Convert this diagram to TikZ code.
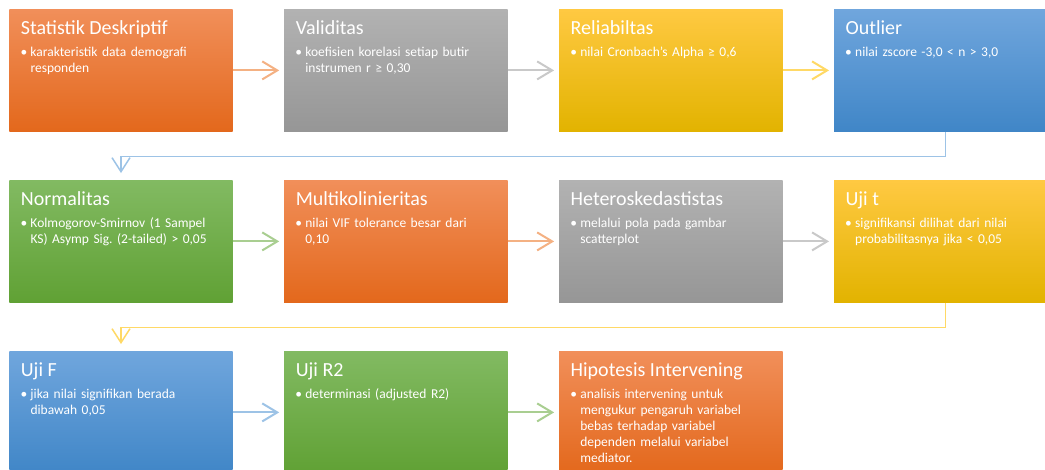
\documentclass[tikz,border=0pt]{standalone}
\usepackage{fontspec}
\setmainfont{Carlito}
\frenchspacing
\usetikzlibrary{positioning,calc,arrows.meta}
\definecolor{oranyeA}{RGB}{241,143,90}
\definecolor{oranyeB}{RGB}{237,125,49}
\definecolor{oranyeC}{RGB}{227,104,28}
\definecolor{abuA}{RGB}{178,178,178}
\definecolor{abuB}{RGB}{165,165,165}
\definecolor{abuC}{RGB}{150,150,150}
\definecolor{emasA}{RGB}{255,201,66}
\definecolor{emasB}{RGB}{255,192,0}
\definecolor{emasC}{RGB}{226,179,0}
\definecolor{biruA}{RGB}{112,166,221}
\definecolor{biruB}{RGB}{91,155,213}
\definecolor{biruC}{RGB}{64,134,199}
\definecolor{hijauA}{RGB}{130,186,98}
\definecolor{hijauB}{RGB}{112,173,71}
\definecolor{hijauC}{RGB}{96,161,52}
\newcommand{\poin}[1]{\makebox[10pt][l]{•}\hangindent=10pt\hangafter=1 #1\par}

\tikzset{
  kotak/.style={minimum width=223.4pt, minimum height=122.7pt, inner sep=0pt, outer sep=0pt},
  kotakoranye/.style={kotak, top color=oranyeA, middle color=oranyeB, bottom color=oranyeC},
  kotakabu/.style={kotak, top color=abuA, middle color=abuB, bottom color=abuC},
  kotakemas/.style={kotak, top color=emasA, middle color=emasB, bottom color=emasC},
  kotakbiru/.style={kotak, top color=biruA, middle color=biruB, bottom color=biruC},
  kotakhijau/.style={kotak, top color=hijauA, middle color=hijauB, bottom color=hijauC},
  judul/.style={anchor=base west, inner sep=0pt, text=white, font=\fontsize{20}{24}\selectfont},
  isi/.style={anchor=base west, inner sep=0pt, text=white, text width=210pt, font=\fontsize{13.5}{16}\selectfont},
  panah/.style={line width=2pt, -{Straight Barb[length=15pt,width=18pt]}, shorten >=5pt},
  belok/.style={line width=1.5pt, -{Straight Barb[length=14pt,width=18pt]}, shorten >=7pt},
}

\begin{document}
\begin{tikzpicture}[x=1pt,y=-1pt]
	\clip (0,0) rectangle (1045,470);
	
	% Baris pertama
	\node[kotakoranye] (desk) at (121,70.4) {};
	\node[kotakabu] (valid) at (395.9,70.4) {};
	\node[kotakemas] (reli) at (670.8,70.4) {};
	\node[kotakbiru] (outl) at (945.7,70.4) {};
	
	\node[judul] at ([shift={(11.4,25)}]desk.north west) {Statistik Deskriptif};
	\node[isi] at ([shift={(11,47.7)}]desk.north west) {\poin{karakteristik data demografi\newline responden}};
	\node[judul] at ([shift={(11.4,25)}]valid.north west) {Validitas};
	\node[isi] at ([shift={(11,47.7)}]valid.north west) {\poin{koefisien korelasi setiap butir\newline instrumen r ≥ 0,30}};
	\node[judul] at ([shift={(11.4,25)}]reli.north west) {Reliabiltas};
	\node[isi] at ([shift={(11,47.7)}]reli.north west) {\poin{nilai Cronbach’s Alpha ≥ 0,6}};
	\node[judul] at ([shift={(11.4,25)}]outl.north west) {Outlier};
	\node[isi] at ([shift={(11,47.7)}]outl.north west) {\poin{nilai zscore -3,0 < n > 3,0}};
	
	% Baris kedua
	\node[kotakhijau] (norm) at (121,241.4) {};
	\node[kotakoranye] (multi) at (395.9,241.4) {};
	\node[kotakabu] (hetero) at (670.8,241.4) {};
	\node[kotakemas] (ujit) at (945.7,241.4) {};
	
	\node[judul] at ([shift={(11.4,25)}]norm.north west) {Normalitas};
	\node[isi] at ([shift={(11,47.7)}]norm.north west) {\poin{Kolmogorov-Smirnov (1 Sampel\newline KS) Asymp Sig. (2-tailed) > 0,05}};
	\node[judul] at ([shift={(11.4,25)}]multi.north west) {Multikolinieritas};
	\node[isi] at ([shift={(11,47.7)}]multi.north west) {\poin{nilai VIF tolerance besar dari\newline 0,10}};
	\node[judul] at ([shift={(11.4,25)}]hetero.north west) {Heteroskedastistas};
	\node[isi] at ([shift={(11,47.7)}]hetero.north west) {\poin{melalui pola pada gambar\newline scatterplot}};
	\node[judul] at ([shift={(11.4,25)}]ujit.north west) {Uji t};
	\node[isi] at ([shift={(11,47.7)}]ujit.north west) {\poin{signifikansi dilihat dari nilai\newline probabilitasnya jika < 0,05}};
	
	% Baris ketiga
	\node[kotakbiru] (ujif) at (121,412.4) {};
	\node[kotakhijau] (ujir) at (395.9,412.4) {};
	\node[kotakoranye] (hipo) at (670.8,412.4) {};
	
	\node[judul] at ([shift={(11.4,25)}]ujif.north west) {Uji F};
	\node[isi] at ([shift={(11,47.7)}]ujif.north west) {\poin{jika nilai signifikan berada\newline dibawah 0,05}};
	\node[judul] at ([shift={(11.4,25)}]ujir.north west) {Uji R2};
	\node[isi] at ([shift={(11,47.7)}]ujir.north west) {\poin{determinasi (adjusted R2)}};
	\node[judul] at ([shift={(11.4,25)}]hipo.north west) {Hipotesis Intervening};
	\node[isi] at ([shift={(11,47.7)}]hipo.north west) {\poin{analisis intervening untuk\newline mengukur pengaruh variabel\newline bebas terhadap variabel\newline dependen melalui variabel\newline mediator.}};
	
	% Panah
	\draw[panah, oranyeB!60] (desk) -- (valid);
	\draw[panah, abuB!60] (valid) -- (reli);
	\draw[panah, emasB!60] (reli) -- (outl);
	\draw[belok, biruB!60] (outl.south) -- ++(0,25) -| (norm.north);
	\draw[panah, hijauB!60] (norm) -- (multi);
	\draw[panah, oranyeB!60] (multi) -- (hetero);
	\draw[panah, abuB!60] (hetero) -- (ujit);
	\draw[belok, emasB!60] (ujit.south) -- ++(0,25) -| (ujif.north);
	\draw[panah, biruB!60] (ujif) -- (ujir);
	\draw[panah, hijauB!60] (ujir) -- (hipo);
\end{tikzpicture}
\end{document}
